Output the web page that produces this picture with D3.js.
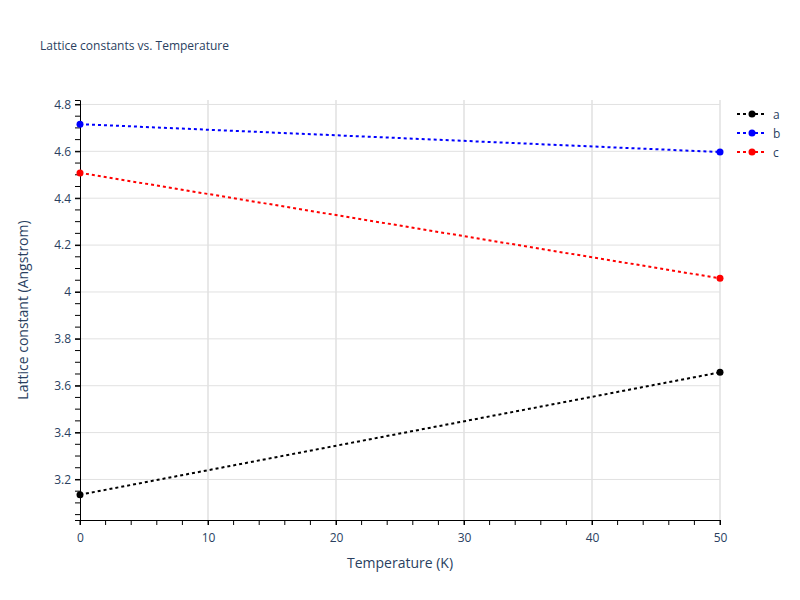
<!DOCTYPE html>
<html lang="en">
<head>
<meta charset="UTF-8">
<title>Lattice constants vs. Temperature</title>
<script src="https://d3js.org/d3.v7.min.js"></script>
<style>
  body { margin: 0; background: #fff; }
  text { font-family: "Open Sans", Arial, sans-serif; fill: #2a3f5f; }
  .tick text { font-size: 12px; fill: #2a3f5f; }
</style>
</head>
<body>
<svg width="800" height="600"></svg>
<script>
const temps = [0, 50];
const seriesNames = ["a", "b", "c"];
const seriesColors = ["#000000", "#0000ff", "#ff0000"];
const aVals = [3.135, 3.657];
const bVals = [4.716, 4.597];
const cVals = [4.508, 4.058];
const allVals = [aVals, bVals, cVals];

const svg = d3.select("svg");
const m = { left: 80, right: 720, top: 100, bottom: 520 };

const x = d3.scaleLinear().domain([0, 50]).range([m.left, m.right]);
const y = d3.scaleLinear().domain([3.027, 4.819]).range([m.bottom, m.top]);

// grid
svg.append("g").selectAll("line").data(d3.range(10, 51, 10)).join("line")
  .attr("x1", d => x(d)).attr("x2", d => x(d)).attr("y1", m.top).attr("y2", m.bottom)
  .attr("stroke", "#e1e1e1").attr("stroke-width", 1.5);
svg.append("g").selectAll("line").data(d3.range(3.2, 4.81, 0.2)).join("line")
  .attr("y1", d => y(d)).attr("y2", d => y(d)).attr("x1", m.left).attr("x2", m.right)
  .attr("stroke", "#e1e1e1").attr("stroke-width", 1);

// minor ticks
svg.append("g").selectAll("line").data(d3.range(0, 51, 2)).join("line")
  .attr("x1", d => x(d)).attr("x2", d => x(d)).attr("y1", m.bottom).attr("y2", m.bottom + 5)
  .attr("stroke", "#000");
svg.append("g").selectAll("line").data(d3.range(3.05, 4.81, 0.05)).join("line")
  .attr("y1", d => y(d)).attr("y2", d => y(d)).attr("x1", m.left - 5).attr("x2", m.left)
  .attr("stroke", "#000");

const fmt = d => (Math.round(d * 10) / 10).toString();
svg.append("g").attr("transform", `translate(0,${m.bottom})`)
  .call(d3.axisBottom(x).tickValues(d3.range(0, 51, 10)).tickSize(5).tickPadding(8))
  .call(g => g.select(".domain").attr("stroke", "#000"));
svg.append("g").attr("transform", `translate(${m.left},0)`)
  .call(d3.axisLeft(y).tickValues(d3.range(3.2, 4.81, 0.2)).tickFormat(fmt).tickSize(5).tickPadding(4))
  .call(g => g.select(".domain").attr("stroke", "#000"));

const line = d3.line().x((d, i) => x(temps[i])).y(d => y(d));
allVals.forEach((vals, k) => {
  svg.append("path").datum(vals).attr("d", line).attr("fill", "none")
    .attr("stroke", seriesColors[k]).attr("stroke-width", 2).attr("stroke-dasharray", "3,3");
  svg.append("g").selectAll("circle").data(vals).join("circle")
    .attr("cx", (d, i) => x(temps[i])).attr("cy", d => y(d)).attr("r", 3.5)
    .attr("fill", seriesColors[k]);
});

// legend
const leg = svg.append("g").attr("transform", "translate(737,114)");
seriesNames.forEach((n, k) => {
  const g = leg.append("g").attr("transform", `translate(0,${k * 19})`);
  g.append("line").attr("x1", 0).attr("x2", 30).attr("stroke", seriesColors[k])
    .attr("stroke-width", 2).attr("stroke-dasharray", "3,3");
  g.append("circle").attr("cx", 15).attr("r", 3.5).attr("fill", seriesColors[k]);
  g.append("text").attr("x", 36).attr("y", 4.5).attr("font-size", 12).text(n);
});

svg.append("text").attr("x", 40).attr("y", 50).attr("font-size", 12)
  .text("Lattice constants vs. Temperature");
svg.append("text").attr("x", 400).attr("y", 568).attr("text-anchor", "middle")
  .attr("font-size", 14).text("Temperature (K)");
svg.append("text").attr("transform", "translate(28,310) rotate(-90)").attr("text-anchor", "middle")
  .attr("font-size", 14).text("Lattice constant (Angstrom)");
</script>
</body>
</html>
